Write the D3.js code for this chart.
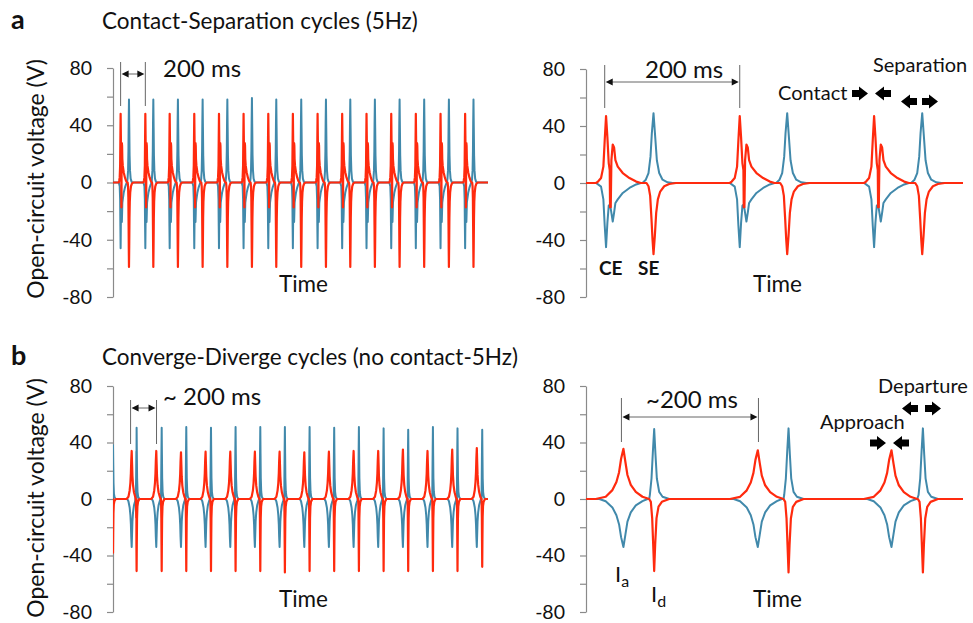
<!DOCTYPE html>
<html lang="en">
  <head>
    <meta charset="UTF-8" />
    <title>Open-circuit voltage cycles</title>
    <script src="https://d3js.org/d3.v7.min.js"></script>
    <style>
      body {
        margin: 0;
        background: #fff;
      }
      svg text {
        font-family: Lato, "Open Sans", sans-serif;
        fill: #111;
      }
      .axis path,
      .axis line {
        stroke: #8a8a8a;
        stroke-width: 1.2px;
      }
      .axis text {
        font-size: 19.5px;
        fill: #111;
      }
      .dim line {
        stroke: #666;
        stroke-width: 1px;
      }
    </style>
  </head>
  <body>
    <svg width="973" height="623"></svg>

    <script>
      // y ticks shared by all four panels (V)
      const yTicks = [-80, -60, -40, -20, 0, 20, 40, 60, 80];
      const yLabels = [-80, -40, 0, 40, 80];

      // pulse shapes: [ms from peak, V]
      const contactRed = [[-15, 0], [-12, 1], [-7.5, 3.5], [-4, 11.5], [-2, 30], [0, 47], [2, 32], [4, 14], [5.5, 9], [6, -17], [7, -17], [8, 16], [10, 27], [12, 25], [14, 16], [17.5, 11.5], [25, 7], [35, 3.5], [45, 1], [52, 0]];
      const contactBlue = [[-15, 0], [-12, -1], [-7.5, -2.5], [-4, -11.5], [-2, -30], [0, -45], [2, -28], [4, -16], [6, -15], [8, -21], [10, -27], [12, -21], [14, -14], [17.5, -11.5], [25, -7], [35, -3.5], [45, -1], [52, 0]];
      const sepBlue = [[-16.5, 0], [-11.5, 2.3], [-7.5, 7], [-4.5, 18.5], [-2.5, 35], [0, 49], [2.5, 32.5], [5, 16], [8.5, 7], [13.5, 2.3], [21, 0.5], [28.5, 0]];
      const sepRed = [[-10.5, 0], [-7.5, -2.3], [-5, -9], [-3, -25.5], [-1.5, -39.5], [0, -50], [2, -37], [4, -21], [6.5, -11.5], [10, -6], [16, -2.3], [23.5, -0.7], [33.5, 0]];
      const approachRed = [[-41.5, 0], [-26.5, 1.6], [-16.5, 6.3], [-10.5, 12], [-6.5, 19], [-3.5, 28.5], [0, 35.5], [3, 26], [6, 17], [11, 10], [18.5, 5], [28.5, 1.6], [38.5, 0]];
      const approachBlue = [[-36, 0], [-26.5, -1.6], [-16.5, -6], [-10.5, -11.5], [-6.5, -18], [-3.5, -27], [0, -34], [3, -25], [6, -16], [11, -9.5], [18.5, -4.5], [28.5, -1.5], [38.5, 0]];
      const departBlue = [[-10, 0], [-6.5, 2.8], [-4, 14.5], [-2, 33], [0, 49.5], [2, 31], [4, 14.5], [7.5, 5], [12.5, 1.6], [22.5, 0]];
      const departRed = [[-7.5, 0], [-5, -2], [-3, -13.5], [-1.5, -32], [0, -51], [1.5, -32], [3.5, -13.5], [6.5, -5.4], [11.5, -2], [22.5, 0]];

      // panel a, left: 3 s of contact-separation (ms)
      const aWideSpan = [0, 3050];
      const aWideContactT = [62, 263, 461, 661, 862, 1062, 1263, 1463, 1664, 1864, 2062, 2263, 2463, 2664, 2864];
      const aWideContactRed = [48, 48, 48, 48, 48, 48, 48, 48, 48, 48, 48, 48, 48, 48, 48];
      const aWideContactBlue = [-46, -46, -46, -46, -46, -46, -46, -46, -46, -46, -46, -46, -46, -46, -46];
      const aWideSepT = [130, 328, 528, 729, 930, 1130, 1328, 1531, 1732, 1930, 2130, 2331, 2531, 2732, 2932];
      const aWideSepBlue = [58, 58, 58, 58, 58, 59, 58, 58, 58, 58, 58, 58, 58, 58, 58];
      const aWideSepRed = [-59, -59, -59, -59, -59, -59, -59, -59, -59, -59, -59, -59, -59, -59, -59];

      // panel a, right: zoom on three cycles
      const aZoomSpan = [0, 564];
      const aZoomContactT = [30, 230, 431];
      const aZoomContactRed = [47, 47, 47];
      const aZoomContactBlue = [-45, -45, -45];
      const aZoomSepT = [101, 301, 503];
      const aZoomSepBlue = [49, 49, 49];
      const aZoomSepRed = [-50, -50, -50];

      // panel b, left: converge-diverge, no contact
      const bWideSpan = [0, 3050];
      const bWideApproachT = [152, 352, 553, 753, 954, 1154, 1355, 1556, 1756, 1957, 2157, 2358, 2558, 2759, 2959];
      const bWideApproachRed = [34, 34, 33, 33.5, 33.5, 33.5, 33.5, 33, 33.5, 34, 34, 35, 34, 35, 36];
      const bWideApproachBlue = [-34, -34, -34, -34, -34, -34, -34, -34, -34, -34, -34, -34, -34, -34, -34];
      const bWideDepartT = [0, 192, 396, 596, 797, 997, 1198, 1398, 1599, 1799, 2000, 2201, 2401, 2602, 2802, 3003];
      const bWideDepartBlue = [38, 50.5, 50.5, 51, 50.5, 51, 51, 51, 51, 50.5, 51, 50, 49, 51, 50, 49];
      const bWideDepartRed = [-38, -51, -51, -51, -51, -51, -51, -52, -51, -51, -51, -51, -51, -51, -51, -48];

      // panel b, right
      const bZoomSpan = [0, 564];
      const bZoomApproachT = [56, 257, 457];
      const bZoomApproachRed = [35.5, 34.5, 34.5];
      const bZoomApproachBlue = [-34, -34, -34];
      const bZoomDepartT = [102, 303, 504];
      const bZoomDepartBlue = [49.5, 50, 50];
      const bZoomDepartRed = [-51, -52, -52];

      const RED = "#ff2a0e";
      const BLUE = "#4189ab";

      const svg = d3.select("svg");

      // place a pulse shape at each event time, scaled to that event's peak
      function trace(span, groups) {
        const pts = [[span[0], 0], [span[1], 0]];
        groups.forEach(([times, amps, shape]) => {
          const peak = shape.find((p) => p[0] === 0)[1];
          times.forEach((t, i) => {
            shape.forEach(([dt, v]) => pts.push([t + dt, (v * amps[i]) / peak]));
          });
        });
        return pts.sort((p, q) => p[0] - q[0]);
      }

      let clipId = 0;
      function panel(p) {
        const x = d3.scaleLinear().domain(p.span).range([p.x0, p.x1]);
        const y = d3.scaleLinear().domain([-80, 80]).range([p.yBottom, p.yTop]);

        const g = svg.append("g");
        const axis = d3
          .axisLeft(y)
          .tickValues(yTicks)
          .tickSize(6)
          .tickSizeOuter(0)
          .tickPadding(15)
          .tickFormat((d) => (yLabels.includes(d) ? d : ""));
        g.append("g")
          .attr("class", "axis")
          .attr("transform", `translate(${p.x0},0)`)
          .call(axis);

        const id = "clip" + clipId++;
        g.append("clipPath")
          .attr("id", id)
          .append("rect")
          .attr("x", p.x0)
          .attr("y", p.yTop - 10)
          .attr("width", p.x1 - p.x0 + 2)
          .attr("height", p.yBottom - p.yTop + 20);

        const line = d3
          .line()
          .x((d) => x(d[0]))
          .y((d) => y(d[1]));

        const plot = g.append("g").attr("clip-path", `url(#${id})`);
        plot.append("path")
          .datum(trace(p.span, p.blue))
          .attr("fill", "none")
          .attr("stroke", BLUE)
          .attr("stroke-width", 2)
          .attr("stroke-linejoin", "round")
          .attr("d", line);
        plot.append("path")
          .datum(trace(p.span, p.red))
          .attr("fill", "none")
          .attr("stroke", RED)
          .attr("stroke-width", 2.2)
          .attr("stroke-linejoin", "round")
          .attr("d", line);

        g.append("text")
          .attr("x", (p.x0 + p.x1) / 2 + 3)
          .attr("y", p.yBottom - 5)
          .attr("text-anchor", "middle")
          .attr("font-size", 22.5)
          .text("Time");

        // dimension marker between two peaks
        const d = p.dim;
        const dg = g.append("g").attr("class", "dim");
        [d.t0, d.t1].forEach((t) =>
          dg.append("line").attr("x1", x(t)).attr("x2", x(t)).attr("y1", d.top).attr("y2", d.bottom)
        );
        const ax0 = x(d.t0) + 1, ax1 = x(d.t1) - 1;
        dg.append("line").attr("x1", ax0 + 4).attr("x2", ax1 - 4).attr("y1", d.arrowY).attr("y2", d.arrowY).attr("stroke", "#222");
        dg.append("path")
          .attr("fill", "#111")
          .attr("d", `M${ax0},${d.arrowY} l7,-3.5 v7 Z M${ax1},${d.arrowY} l-7,-3.5 v7 Z`);
        g.append("text")
          .attr("x", d.labelX)
          .attr("y", d.labelY)
          .attr("font-size", 24)
          .text(d.label);
        return { x, y, g };
      }

      // black block arrows, dir = 1 points right, -1 points left
      function blockArrow(cx, cy, dir) {
        const w = 16, hb = 3.5, hh = 7, body = 7;
        const tail = cx - (dir * w) / 2;
        const neck = tail + dir * body;
        const tip = cx + (dir * w) / 2;
        svg.append("path")
          .attr("fill", "#000")
          .attr(
            "d",
            `M${tail},${cy - hb} L${neck},${cy - hb} L${neck},${cy - hh} L${tip},${cy} L${neck},${cy + hh} L${neck},${cy + hb} L${tail},${cy + hb} Z`
          );
      }

      // ---- row a ----
      panel({
        span: aWideSpan, x0: 113, x1: 488, yTop: 68, yBottom: 297,
        red: [[aWideContactT, aWideContactRed, contactRed], [aWideSepT, aWideSepRed, sepRed]],
        blue: [[aWideContactT, aWideContactBlue, contactBlue], [aWideSepT, aWideSepBlue, sepBlue]],
        dim: { t0: 62, t1: 263, top: 62, bottom: 106, arrowY: 74, label: "200 ms", labelX: 163, labelY: 77 },
      });
      panel({
        span: aZoomSpan, x0: 586, x1: 963, yTop: 69, yBottom: 297,
        red: [[aZoomContactT, aZoomContactRed, contactRed], [aZoomSepT, aZoomSepRed, sepRed]],
        blue: [[aZoomContactT, aZoomContactBlue, contactBlue], [aZoomSepT, aZoomSepBlue, sepBlue]],
        dim: { t0: 28, t1: 230, top: 65, bottom: 108, arrowY: 82, label: "200 ms", labelX: 645, labelY: 78 },
      });

      // ---- row b ----
      panel({
        span: bWideSpan, x0: 113, x1: 488, yTop: 386, yBottom: 612,
        red: [[bWideApproachT, bWideApproachRed, approachRed], [bWideDepartT, bWideDepartRed, departRed]],
        blue: [[bWideApproachT, bWideApproachBlue, approachBlue], [bWideDepartT, bWideDepartBlue, departBlue]],
        dim: { t0: 143, t1: 354, top: 400, bottom: 444, arrowY: 408, label: "~ 200 ms", labelX: 163, labelY: 405 },
      });
      panel({
        span: bZoomSpan, x0: 586, x1: 963, yTop: 386, yBottom: 612,
        red: [[bZoomApproachT, bZoomApproachRed, approachRed], [bZoomDepartT, bZoomDepartRed, departRed]],
        blue: [[bZoomApproachT, bZoomApproachBlue, approachBlue], [bZoomDepartT, bZoomDepartBlue, departBlue]],
        dim: { t0: 53, t1: 258, top: 398, bottom: 442, arrowY: 417, label: "~200 ms", labelX: 646, labelY: 408 },
      });

      // panel letters, titles, axis titles
      svg.append("text").attr("x", 11).attr("y", 29).attr("font-size", 27).attr("font-weight", "bold").text("a");
      svg.append("text").attr("x", 11).attr("y", 365).attr("font-size", 27).attr("font-weight", "bold").text("b");
      svg.append("text").attr("x", 102).attr("y", 29).attr("font-size", 22.5).text("Contact-Separation cycles (5Hz)");
      svg.append("text").attr("x", 102).attr("y", 365).attr("font-size", 22.5).text("Converge-Diverge cycles (no contact-5Hz)");
      [179, 498].forEach((cy) =>
        svg.append("text")
          .attr("transform", `translate(44,${cy}) rotate(-90)`)
          .attr("text-anchor", "middle")
          .attr("font-size", 23)
          .text("Open-circuit voltage (V)")
      );

      // annotations on panel a right
      svg.append("text").attr("x", 599).attr("y", 275).attr("font-size", 19).attr("font-weight", "bold").text("CE");
      svg.append("text").attr("x", 638).attr("y", 275).attr("font-size", 19).attr("font-weight", "bold").text("SE");
      svg.append("text").attr("x", 778).attr("y", 100).attr("font-size", 20).text("Contact");
      svg.append("text").attr("x", 873).attr("y", 72).attr("font-size", 20).text("Separation");
      blockArrow(860, 93.5, 1);
      blockArrow(883, 93.5, -1);
      blockArrow(909, 101.5, -1);
      blockArrow(930, 101.5, 1);

      // annotations on panel b right
      svg.append("text").attr("x", 878).attr("y", 393).attr("font-size", 20).text("Departure");
      svg.append("text").attr("x", 820).attr("y", 429).attr("font-size", 20).text("Approach");
      blockArrow(910, 408.5, -1);
      blockArrow(933, 408.5, 1);
      blockArrow(878, 443, 1);
      blockArrow(901, 443, -1);
      const ia = svg.append("text").attr("x", 615).attr("y", 582).attr("font-size", 22);
      ia.append("tspan").text("I");
      ia.append("tspan").attr("dy", 5).attr("font-size", 16).text("a");
      const id = svg.append("text").attr("x", 651).attr("y", 602).attr("font-size", 22);
      id.append("tspan").text("I");
      id.append("tspan").attr("dy", 5).attr("font-size", 16).text("d");
    </script>
  </body>
</html>
